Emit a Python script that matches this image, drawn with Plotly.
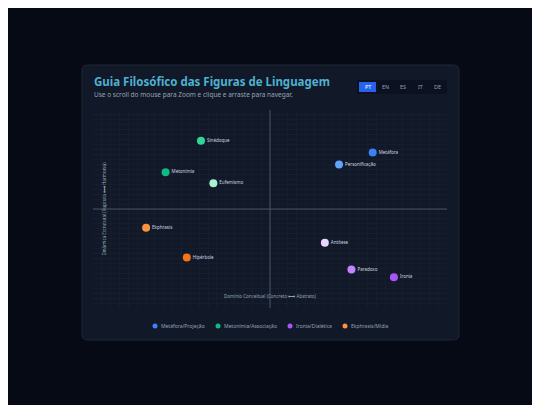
import plotly.graph_objects as go

groups = ["Metáfora/Projeção", "Metonímia/Associação", "Ironia/Dialética", "Ekphrasis/Mídia"]
names = ["Metáfora", "Personificação", "Sinédoque", "Metonímia", "Eufemismo",
         "Ironia", "Paradoxo", "Antítese", "Ekphrasis", "Hipérbole"]
xs = [5.8, 3.9, -3.9, -5.9, -3.2, 7.0, 4.6, 3.1, -7.0, -4.7]
ys = [5.7, 4.5, 6.9, 3.7, 2.6, -6.9, -6.1, -3.4, -1.9, -4.9]
grp = [0, 0, 1, 1, 1, 2, 2, 2, 3, 3]
colors = ["#3b82f6", "#60a5fa", "#34d399", "#10b981", "#a7f3d0",
          "#a855f7", "#c084fc", "#e9d5ff", "#fb923c", "#f97316"]
legend_colors = ["#3b82f6", "#10b981", "#a855f7", "#fb923c"]
langs = ["PT", "EN", "ES", "IT", "DE"]

fig = go.Figure()
for n, x, y, g, c in zip(names, xs, ys, grp, colors):
    fig.add_trace(go.Scatter(
        x=[x], y=[y], mode="markers+text", text=[n], textposition="middle right",
        textfont=dict(size=4.5, color="#cbd5e1"),
        marker=dict(size=8, color=c), name=groups[g], showlegend=False))

def rr(x0, y0, x1, y1, r):
    return (f"M{x0+r},{y0} L{x1-r},{y0} Q{x1},{y0} {x1},{y0+r} L{x1},{y1-r} Q{x1},{y1} {x1-r},{y1} "
            f"L{x0+r},{y1} Q{x0},{y1} {x0},{y1-r} L{x0},{y0+r} Q{x0},{y0} {x0+r},{y0} Z")

W, H = 540, 405
OFF = 8
px = lambda v: (v - OFF) / W
py = lambda v: 1 - (v - OFF) / H
shapes = [dict(type="path", xref="paper", yref="paper", layer="below",
               path=rr(px(82), py(340), px(459), py(65), 0.012),
               fillcolor="#111827", line=dict(color="#1f2937", width=1)),
          dict(type="rect", xref="paper", yref="paper", layer="below",
               x0=px(357), x1=px(447), y0=py(94), y1=py(80),
               fillcolor="#0b1120", line=dict(width=0)),
          dict(type="rect", xref="paper", yref="paper", layer="below",
               x0=px(359), x1=px(376), y0=py(92), y1=py(82),
               fillcolor="#2563eb", line=dict(width=0)),
          dict(type="line", x0=-10, x1=10, y0=0, y1=0, line=dict(color="#475569", width=1)),
          dict(type="line", x0=0, x1=0, y0=-10, y1=10, line=dict(color="#475569", width=1))]
ann = [dict(text="<b>Guia Filosófico das Figuras de Linguagem</b>", x=px(92), y=py(82),
            xref="paper", yref="paper", xanchor="left", yanchor="middle", showarrow=False,
            font=dict(size=11.5, color="#4fb0d0", family="Noto Sans")),
       dict(text="Use o scroll do mouse para Zoom e clique e arraste para navegar.", x=px(92), y=py(95),
            xref="paper", yref="paper", xanchor="left", yanchor="middle", showarrow=False,
            font=dict(size=6.5, color="#94a3b8", family="Noto Sans")),
       dict(text="Domínio Conceitual (Concreto ⟷ Abstrato)", x=0, y=-8.8, showarrow=False,
            font=dict(size=4.5, color="#94a3b8")),
       dict(text="Dinâmica Estrutural (Ruptura ⟷ Harmonia)", x=-9.4, y=0, textangle=-90, showarrow=False,
            font=dict(size=4.5, color="#94a3b8"))]
for i, l in enumerate(langs):
    ann.append(dict(text=l, x=px(367.5 + i * 17.5), y=py(87), xref="paper", yref="paper",
                    xanchor="center", yanchor="middle",
                    showarrow=False, font=dict(size=5.5, color="#ffffff" if i == 0 else "#94a3b8")))
leg_x = [155, 218, 290, 345]
for lx, g, c in zip(leg_x, groups, legend_colors):
    shapes.append(dict(type="circle", xref="paper", yref="paper",
                       x0=px(lx - 2.5), x1=px(lx + 2.5), y0=py(328.5), y1=py(323.5),
                       fillcolor=c, line=dict(width=0)))
    ann.append(dict(text=g, x=px(lx + 4), y=py(326), xref="paper", yref="paper",
                    xanchor="left", yanchor="middle", showarrow=False,
                    font=dict(size=5, color="#94a3b8")))

fig.update_layout(
    width=W, height=H, margin=dict(l=0, r=0, t=0, b=0),
    paper_bgcolor="#060a14", plot_bgcolor="#0b0f1c",
    font=dict(family="Noto Sans", color="#cbd5e1"),
    shapes=shapes, annotations=ann, showlegend=False,
    xaxis=dict(domain=[px(93), px(447)], range=[-10, 10], dtick=0.5, showticklabels=False,
               gridcolor="#161d2c", gridwidth=0.5, zeroline=False),
    yaxis=dict(domain=[py(308), py(110)], range=[-10, 10], dtick=0.5, showticklabels=False,
               gridcolor="#161d2c", gridwidth=0.5, zeroline=False),
)
fig.write_html("out.html")
